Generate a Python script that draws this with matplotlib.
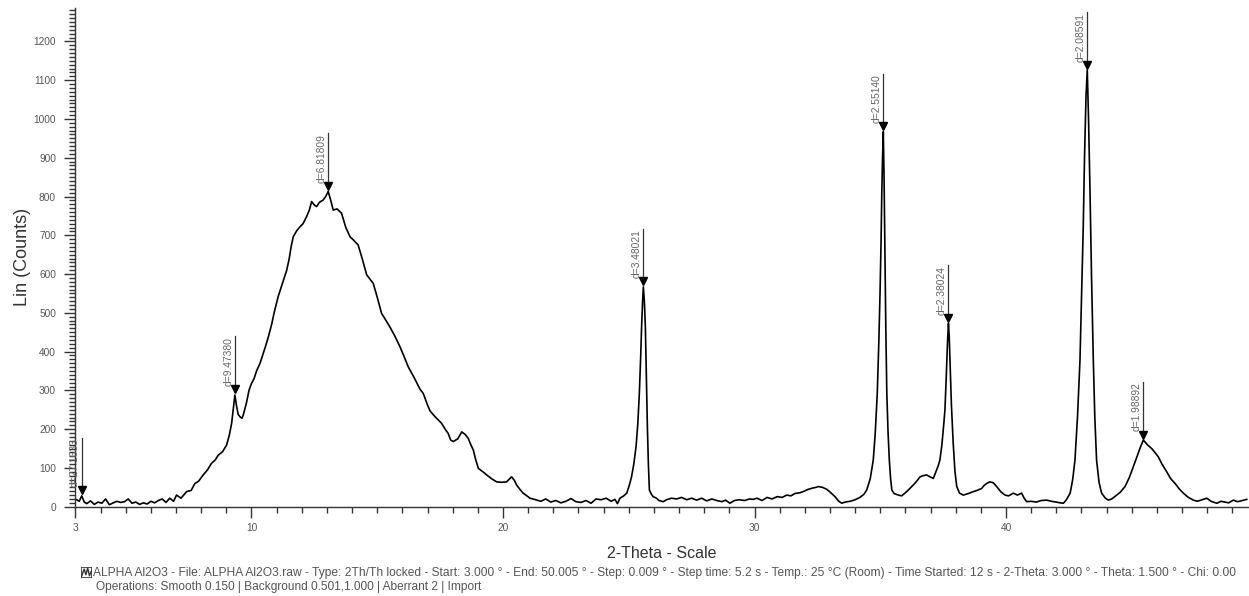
import matplotlib
matplotlib.use("Agg")
import matplotlib.pyplot as plt
from matplotlib.ticker import MultipleLocator, FixedLocator
from matplotlib.patches import Rectangle

plt.rcParams['font.family'] = ['Liberation Sans', 'DejaVu Sans']

# 2-Theta scan (degrees) and intensity (counts)
two_theta = [
    3.05, 3.15, 3.25, 3.35, 3.45, 3.6, 3.75, 3.9, 4.05, 4.2, 4.35, 4.5, 4.65, 4.8,
    4.95, 5.1, 5.25, 5.4, 5.55, 5.7, 5.85, 6.0, 6.15, 6.3, 6.45, 6.6, 6.75, 6.9,
    7.02, 7.2, 7.42, 7.6, 7.75, 7.9, 8.08, 8.25, 8.41, 8.55, 8.68, 8.85, 9.01,
    9.12, 9.21, 9.28, 9.34, 9.40, 9.47, 9.54, 9.62, 9.67, 9.8, 9.9, 10.0, 10.1,
    10.2, 10.34, 10.45, 10.55, 10.67, 10.8, 10.9, 11.06, 11.2, 11.3, 11.40, 11.5,
    11.58, 11.66, 11.8, 11.93, 12.05, 12.19, 12.3, 12.39, 12.5, 12.59, 12.7,
    12.85, 12.95, 13.05, 13.15, 13.25, 13.4, 13.58, 13.75, 13.92, 14.05, 14.24,
    14.4, 14.58, 14.7, 14.84, 15.0, 15.17, 15.3, 15.5, 15.7, 15.9, 16.05, 16.23,
    16.45, 16.70, 16.83, 17.0, 17.10, 17.3, 17.56, 17.7, 17.82, 17.92, 18.02,
    18.2, 18.36, 18.5, 18.62, 18.72, 18.82, 18.92, 19.02, 19.2, 19.35, 19.55,
    19.75, 19.95, 20.14, 20.34, 20.45, 20.54, 20.67, 20.80, 20.95, 21.07, 21.3,
    21.5, 21.7, 21.9, 22.1, 22.3, 22.5, 22.7, 22.9, 23.1, 23.3, 23.5, 23.7, 23.9,
    24.1, 24.3, 24.45, 24.55, 24.65, 24.8, 24.92, 25.02, 25.11, 25.2, 25.29,
    25.36, 25.42, 25.47, 25.51, 25.55, 25.58, 25.62, 25.66, 25.70, 25.74, 25.78,
    25.82, 25.9, 25.97, 26.1, 26.2, 26.37, 26.5, 26.7, 26.9, 27.1, 27.3, 27.5,
    27.7, 27.9, 28.1, 28.3, 28.5, 28.7, 28.85, 29.02, 29.2, 29.4, 29.6, 29.8,
    29.95, 30.1, 30.3, 30.5, 30.7, 30.9, 31.1, 31.28, 31.45, 31.6, 31.8, 31.94,
    32.1, 32.3, 32.45, 32.54, 32.7, 32.87, 33.0, 33.1, 33.2, 33.35, 33.47, 33.6,
    33.8, 34.0, 34.19, 34.35, 34.46, 34.6, 34.72, 34.8, 34.88, 34.94, 34.99,
    35.03, 35.06, 35.09, 35.12, 35.15, 35.19, 35.22, 35.26, 35.31, 35.36, 35.41,
    35.46, 35.55, 35.72, 35.85, 35.98, 36.1, 36.25, 36.4, 36.58, 36.7, 36.84,
    36.95, 37.11, 37.2, 37.3, 37.37, 37.45, 37.52, 37.57, 37.62, 37.67, 37.71,
    37.74, 37.77, 37.83, 37.90, 37.97, 38.04, 38.15, 38.30, 38.5, 38.70, 38.85,
    39.03, 39.13, 39.23, 39.35, 39.49, 39.6, 39.69, 39.8, 39.96, 40.1, 40.29,
    40.45, 40.62, 40.72, 40.82, 41.0, 41.2, 41.4, 41.62, 41.8, 42.0, 42.15,
    42.28, 42.4, 42.55, 42.65, 42.74, 42.84, 42.94, 43.0, 43.07, 43.12, 43.18,
    43.23, 43.28, 43.34, 43.40, 43.47, 43.53, 43.60, 43.7, 43.80, 43.95, 44.07,
    44.2, 44.40, 44.55, 44.73, 44.9, 45.06, 45.2, 45.35, 45.46, 45.55, 45.65,
    45.79, 45.92, 46.05, 46.2, 46.39, 46.55, 46.72, 46.9, 47.05, 47.25, 47.45,
    47.6, 47.8, 47.98, 48.15, 48.38, 48.55, 48.7, 48.85, 49.04, 49.2, 49.4, 49.57,
]
counts = [
    18, 14, 28, 12, 8, 15, 6, 12, 9, 20, 5, 10, 14, 11, 13, 20, 9, 12, 6, 10,
    7, 14, 10, 16, 20, 11, 22, 14, 30, 22, 39, 42, 60, 66, 82, 95, 112, 120,
    133, 142, 159, 185, 215, 255, 288, 262, 238, 232, 228, 236, 268, 300, 318,
    330, 350, 370, 392, 412, 438, 470, 500, 542, 570, 590, 610, 640, 672, 696,
    712, 722, 730, 748, 765, 787, 778, 774, 785, 791, 800, 813, 790, 765, 768,
    757, 720, 696, 688, 675, 640, 598, 588, 576, 540, 499, 485, 464, 440, 413,
    390, 361, 335, 303, 292, 262, 247, 232, 215, 200, 189, 172, 168, 175, 193,
    186, 176, 160, 146, 120, 99, 90, 82, 72, 64, 63, 64, 77, 68, 56, 45, 35, 28,
    22, 18, 14, 20, 12, 16, 10, 14, 21, 13, 11, 16, 9, 20, 18, 22, 14, 19, 8,
    22, 28, 35, 55, 77, 110, 155, 215, 292, 380, 464, 530, 567, 530, 464, 330,
    206, 110, 43, 32, 26, 22, 16, 13, 18, 22, 20, 24, 18, 22, 17, 22, 15, 20,
    16, 13, 17, 9, 16, 18, 16, 20, 19, 22, 16, 24, 20, 26, 24, 30, 28, 34, 36,
    39, 44, 48, 50, 52, 50, 45, 38, 32, 26, 14, 9, 12, 14, 18, 24, 32, 43, 72,
    120, 190, 292, 420, 550, 680, 808, 900, 967, 850, 636, 460, 292, 190, 120,
    72, 43, 34, 30, 28, 35, 42, 52, 62, 77, 80, 82, 78, 73, 88, 105, 120, 160,
    210, 249, 330, 420, 473, 440, 378, 260, 163, 90, 52, 35, 30, 34, 39, 42, 47,
    55, 60, 64, 62, 54, 47, 38, 30, 28, 35, 30, 35, 22, 13, 14, 12, 16, 17, 14,
    12, 10, 9, 18, 35, 70, 120, 230, 378, 540, 722, 900, 1060, 1126, 1000, 808,
    590, 378, 230, 120, 62, 35, 22, 17, 20, 30, 38, 52, 75, 103, 128, 155, 172,
    165, 158, 150, 140, 129, 110, 90, 72, 60, 45, 35, 24, 17, 14, 18, 22, 14, 9,
    14, 12, 10, 17, 13, 16, 19,
]

# identified peaks: position, apex counts, d-spacing label
peak_pos = [3.25, 9.34, 13.05, 25.58, 35.12, 37.71, 43.23, 45.46]
peak_cnt = [28, 290, 813, 567, 967, 473, 1126, 172]
peak_lbl = ["d=27.1633", "d=9.47380", "d=6.81809", "d=3.48021",
            "d=2.55140", "d=2.38024", "d=2.08591", "d=1.98892"]

footer1 = ("ALPHA Al2O3 - File: ALPHA Al2O3.raw - Type: 2Th/Th locked - Start: 3.000 \u00b0 - "
           "End: 50.005 \u00b0 - Step: 0.009 \u00b0 - Step time: 5.2 s - Temp.: 25 \u00b0C (Room) - "
           "Time Started: 12 s - 2-Theta: 3.000 \u00b0 - Theta: 1.500 \u00b0 - Chi: 0.00")
footer2 = "Operations: Smooth 0.150 | Background 0.501,1.000 | Aberrant 2 | Import"

fig = plt.figure(figsize=(12.49, 5.96), dpi=100)
ax = fig.add_axes([0.0604, 0.1498, 0.9396, 0.8367])

ax.plot(two_theta, counts, color='black', lw=1.2)

# peak markers with d-spacing tags
for px, py, lbl in zip(peak_pos, peak_cnt, peak_lbl):
    top = py + 150
    ax.plot([px, px], [py + 10, top], color='#333333', lw=0.9)
    ax.plot(px, py + 14, marker='v', color='black', ms=5.5)
    ax.text(px - 0.07, py + 22, lbl, rotation=90, ha='right', va='bottom',
            fontsize=7.4, color='#666666')

ax.set_xlim(3, 49.66)
ax.set_ylim(0, 1286)

for side in ['top', 'right']:
    ax.spines[side].set_visible(False)
for side in ['left', 'bottom']:
    ax.spines[side].set_color('#333333')
    ax.spines[side].set_linewidth(1.0)

ax.xaxis.set_major_locator(FixedLocator([3, 10, 20, 30, 40]))
ax.xaxis.set_minor_locator(MultipleLocator(1))
ax.yaxis.set_major_locator(MultipleLocator(100))
ax.yaxis.set_minor_locator(MultipleLocator(10))
ax.tick_params(which='major', length=8, width=1, color='#333333',
               labelsize=7.3, labelcolor='#555555', pad=6)
ax.tick_params(which='minor', length=4, width=1, color='#333333')
ax.tick_params(axis='x', which='major', pad=4)

ax.set_xlabel('2-Theta - Scale', fontsize=11.5, color='#333333', labelpad=9)
ax.set_ylabel('Lin (Counts)', fontsize=13, color='#333333', labelpad=2)

# scan description footer with a small scan icon
fig.text(0.0745, 0.0385, footer1, fontsize=8.65, color='#555555', va='center', ha='left')
fig.text(0.0765, 0.0150, footer2, fontsize=8.6, color='#555555', va='center', ha='left')
icon = fig.add_axes([0.0645, 0.030, 0.0095, 0.019])
icon.add_patch(Rectangle((0, 0), 1, 1, fill=False, lw=1.2, ec='#333333'))
icon.plot([0.1, 0.3, 0.45, 0.6, 0.75, 0.9], [0.2, 0.8, 0.3, 0.9, 0.2, 0.6], color='#333333', lw=1)
icon.set_xlim(0, 1)
icon.set_ylim(0, 1)
icon.axis('off')

fig.savefig('out.png', dpi=100)
